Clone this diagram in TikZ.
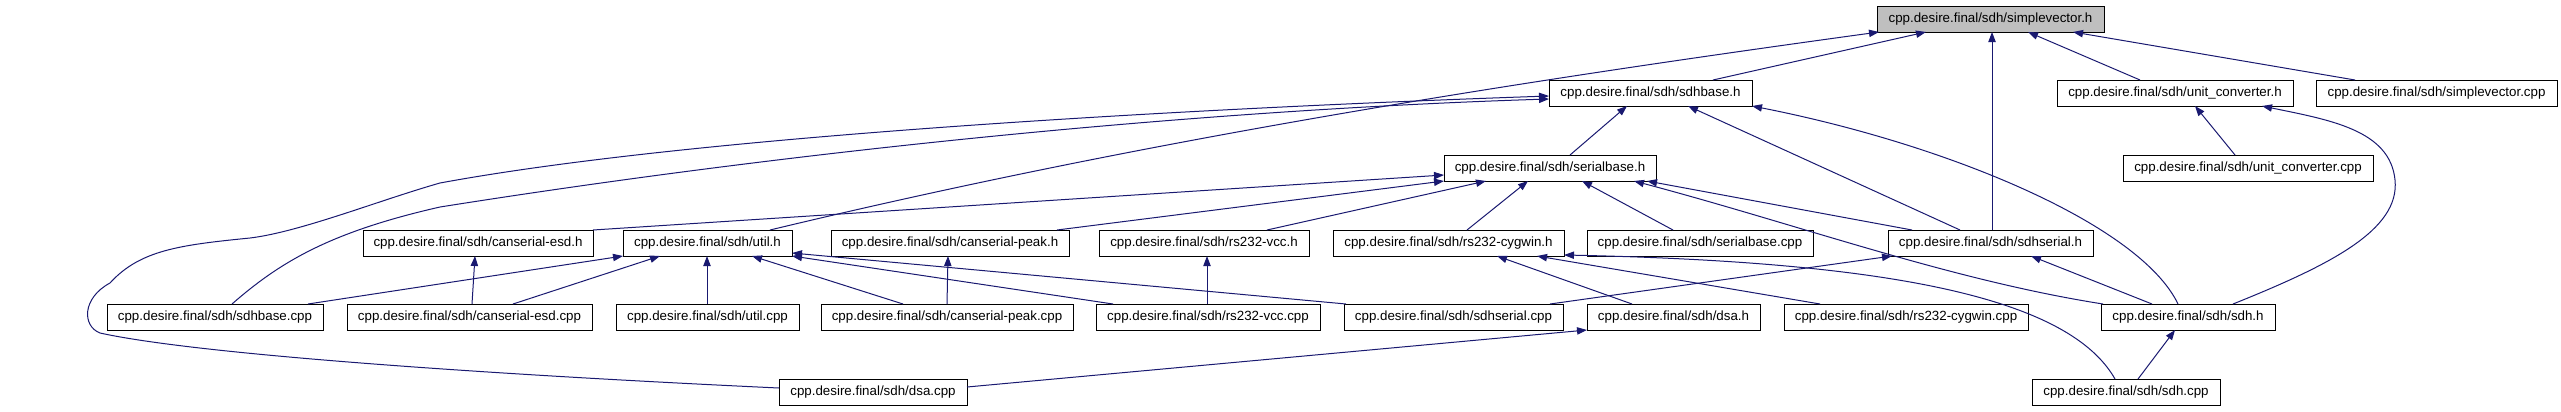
\documentclass[tikz,border=0pt]{standalone}
\usepackage{fontspec}
\setmainfont{Liberation Sans}
\usetikzlibrary{arrows.meta,calc}
\definecolor{edgecol}{HTML}{191970}
\definecolor{rootfill}{HTML}{BFBFBF}
\begin{document}
\begin{tikzpicture}[x=0.75pt,y=-0.75pt,
  box/.style={draw=black,line width=0.75pt,fill=white,minimum height=19.5pt,inner sep=0pt,outer sep=0pt,
    font=\fontsize{10}{12}\selectfont,anchor=north west},
  bw/.style={minimum width=#1*0.75pt},
  dep/.style={draw=edgecol,line width=0.75pt,-{Triangle[length=7.5pt,width=5.5pt]}}]
\useasboundingbox (0,0) rectangle (2561,411);
% row 0
\node[box,bw=227,fill=rootfill] (svh) at (1877,6) {cpp.desire.final/sdh/simplevector.h};
% row 1
\node[box,bw=203] (sdhbaseh) at (1549,80) {cpp.desire.final/sdh/sdhbase.h};
\node[box,bw=236] (uch) at (2057,80) {cpp.desire.final/sdh/unit\_converter.h};
\node[box,bw=241] (svcpp) at (2316,80) {cpp.desire.final/sdh/simplevector.cpp};
% row 2
\node[box,bw=212] (serialbaseh) at (1444,155) {cpp.desire.final/sdh/serialbase.h};
\node[box,bw=250] (uccpp) at (2123,155) {cpp.desire.final/sdh/unit\_converter.cpp};
% row 3
\node[box,bw=230] (cesdh) at (363,230) {cpp.desire.final/sdh/canserial-esd.h};
\node[box,bw=169] (utilh) at (623,230) {cpp.desire.final/sdh/util.h};
\node[box,bw=238] (cpeakh) at (831,230) {cpp.desire.final/sdh/canserial-peak.h};
\node[box,bw=210] (vcch) at (1099,230) {cpp.desire.final/sdh/rs232-vcc.h};
\node[box,bw=231] (cygh) at (1333,230) {cpp.desire.final/sdh/rs232-cygwin.h};
\node[box,bw=226] (sbasecpp) at (1587,230) {cpp.desire.final/sdh/serialbase.cpp};
\node[box,bw=205] (sdhserialh) at (1888,230) {cpp.desire.final/sdh/sdhserial.h};
% row 4
\node[box,bw=216] (sdhbasecpp) at (107,304) {cpp.desire.final/sdh/sdhbase.cpp};
\node[box,bw=245] (cesdcpp) at (347,304) {cpp.desire.final/sdh/canserial-esd.cpp};
\node[box,bw=183] (utilcpp) at (616,304) {cpp.desire.final/sdh/util.cpp};
\node[box,bw=252] (cpeakcpp) at (821,304) {cpp.desire.final/sdh/canserial-peak.cpp};
\node[box,bw=224] (vcccpp) at (1096,304) {cpp.desire.final/sdh/rs232-vcc.cpp};
\node[box,bw=219] (sdhserialcpp) at (1344,304) {cpp.desire.final/sdh/sdhserial.cpp};
\node[box,bw=173] (dsah) at (1587,304) {cpp.desire.final/sdh/dsa.h};
\node[box,bw=244] (cygcpp) at (1784,304) {cpp.desire.final/sdh/rs232-cygwin.cpp};
\node[box,bw=174] (sdhh) at (2101,304) {cpp.desire.final/sdh/sdh.h};
% row 5
\node[box,bw=188] (dsacpp) at (779,379) {cpp.desire.final/sdh/dsa.cpp};
\node[box,bw=188] (sdhcpp) at (2032,379) {cpp.desire.final/sdh/sdh.cpp};

% edges into simplevector.h
\draw[dep] ($(utilh.north west)+(147,0)$) .. controls (1140,141) and (1500,84) .. ($(svh.south west)+(2,0)$);
\draw[dep] ($(sdhbaseh.north west)+(164,0)$) -- ($(svh.south west)+(49,0)$);
\draw[dep] ($(sdhserialh.north west)+(104,0)$) -- ($(svh.south west)+(115,0)$);
\draw[dep] ($(uch.north west)+(83,0)$) -- ($(svh.south west)+(151,0)$);
\draw[dep] ($(svcpp.north west)+(39,0)$) -- ($(svh.south west)+(196,0)$);

% edges into sdhbase.h
\draw[dep] ($(sdhbasecpp.north west)+(125,0)$) .. controls (280,262) and (330,232) .. (440,207)
   .. controls (800,150) and (1200,110) .. ($(sdhbaseh.north west)+(0,19)$);
\draw[dep] ($(dsacpp.north west)+(0,9)$) .. controls (500,375) and (200,355) .. (100,333)
   .. controls (82,326) and (82,298) .. (110,283)
   .. controls (140,250) and (180,245) .. (250,238)
   .. controls (300,232) and (380,200) .. (440,183)
   .. controls (700,135) and (1200,108) .. ($(sdhbaseh.north west)+(0,16)$);
\draw[dep] ($(serialbaseh.north west)+(126,0)$) -- ($(sdhbaseh.south west)+(78,0)$);
\draw[dep] ($(sdhserialh.north west)+(72,0)$) -- ($(sdhbaseh.south west)+(139,0)$);
\draw[dep] ($(sdhh.north west)+(77,0)$) .. controls (2140,225) and (1950,145) .. (sdhbaseh.south east);

% edges into util.h
\draw[dep] ($(sdhbasecpp.north west)+(201,0)$) -- (utilh.south west);
\draw[dep] ($(cesdcpp.north west)+(166,0)$) -- ($(utilh.south west)+(37,0)$);
\draw[dep] ($(utilcpp.north west)+(91,0)$) -- ($(utilh.south west)+(84,0)$);
\draw[dep] ($(cpeakcpp.north west)+(82,0)$) -- ($(utilh.south west)+(129,0)$);
\draw[dep] ($(vcccpp.north west)+(17,0)$) -- (utilh.south east);
\draw[dep] ($(sdhserialcpp.north west)+(2,0)$) -- ($(utilh.north east)+(0,23)$);

% single-parent headers
\draw[dep] ($(cesdcpp.north west)+(125,0)$) -- ($(cesdh.south west)+(112,0)$);
\draw[dep] ($(cpeakcpp.north west)+(126,0)$) -- ($(cpeakh.south west)+(117,0)$);
\draw[dep] ($(vcccpp.north west)+(111,0)$) -- ($(vcch.south west)+(108,0)$);

% edges into serialbase.h
\draw[dep] (cesdh.north east) -- ($(serialbaseh.north west)+(0,20)$);
\draw[dep] ($(cpeakh.north west)+(226,0)$) -- (serialbaseh.south west);
\draw[dep] ($(vcch.north west)+(168,0)$) -- ($(serialbaseh.south west)+(42,0)$);
\draw[dep] ($(cygh.north west)+(134,0)$) -- ($(serialbaseh.south west)+(84,0)$);
\draw[dep] ($(sbasecpp.north west)+(86,0)$) -- ($(serialbaseh.south west)+(138,0)$);
\draw[dep] ($(sdhserialh.north west)+(24,0)$) -- ($(serialbaseh.south west)+(203,0)$);
\draw[dep] ($(sdhh.north west)+(2,0)$) .. controls (1950,280) and (1800,225) .. ($(serialbaseh.south west)+(190,0)$);

% unit converter
\draw[dep] ($(sdhh.north west)+(132,0)$) .. controls (2330,265) and (2400,230) .. (2395,180)
   .. controls (2390,130) and (2330,120) .. ($(uch.south west)+(205,0)$);
\draw[dep] ($(uccpp.north west)+(112,0)$) -- ($(uch.south west)+(138,0)$);

% sdhserial.h
\draw[dep] ($(sdhh.north west)+(51,0)$) -- ($(sdhserialh.south west)+(143,0)$);
\draw[dep] ($(sdhserialcpp.north west)+(206,0)$) -- ($(sdhserialh.south west)+(4,0)$);

% rs232-cygwin.h
\draw[dep] ($(sdhcpp.north west)+(83,0)$) .. controls (2070,300) and (1900,262) .. ($(cygh.north east)+(0,25)$);
\draw[dep] ($(dsah.north west)+(45,0)$) -- ($(cygh.south west)+(164,0)$);
\draw[dep] ($(cygcpp.north west)+(36,0)$) -- ($(cygh.south west)+(204,0)$);

% sdh.h and dsa.h
\draw[dep] ($(sdhcpp.north west)+(106,0)$) -- ($(sdhh.south west)+(74,0)$);
\draw[dep] ($(dsacpp.north east)+(0,8)$) -- (dsah.south west);
\end{tikzpicture}
\end{document}
